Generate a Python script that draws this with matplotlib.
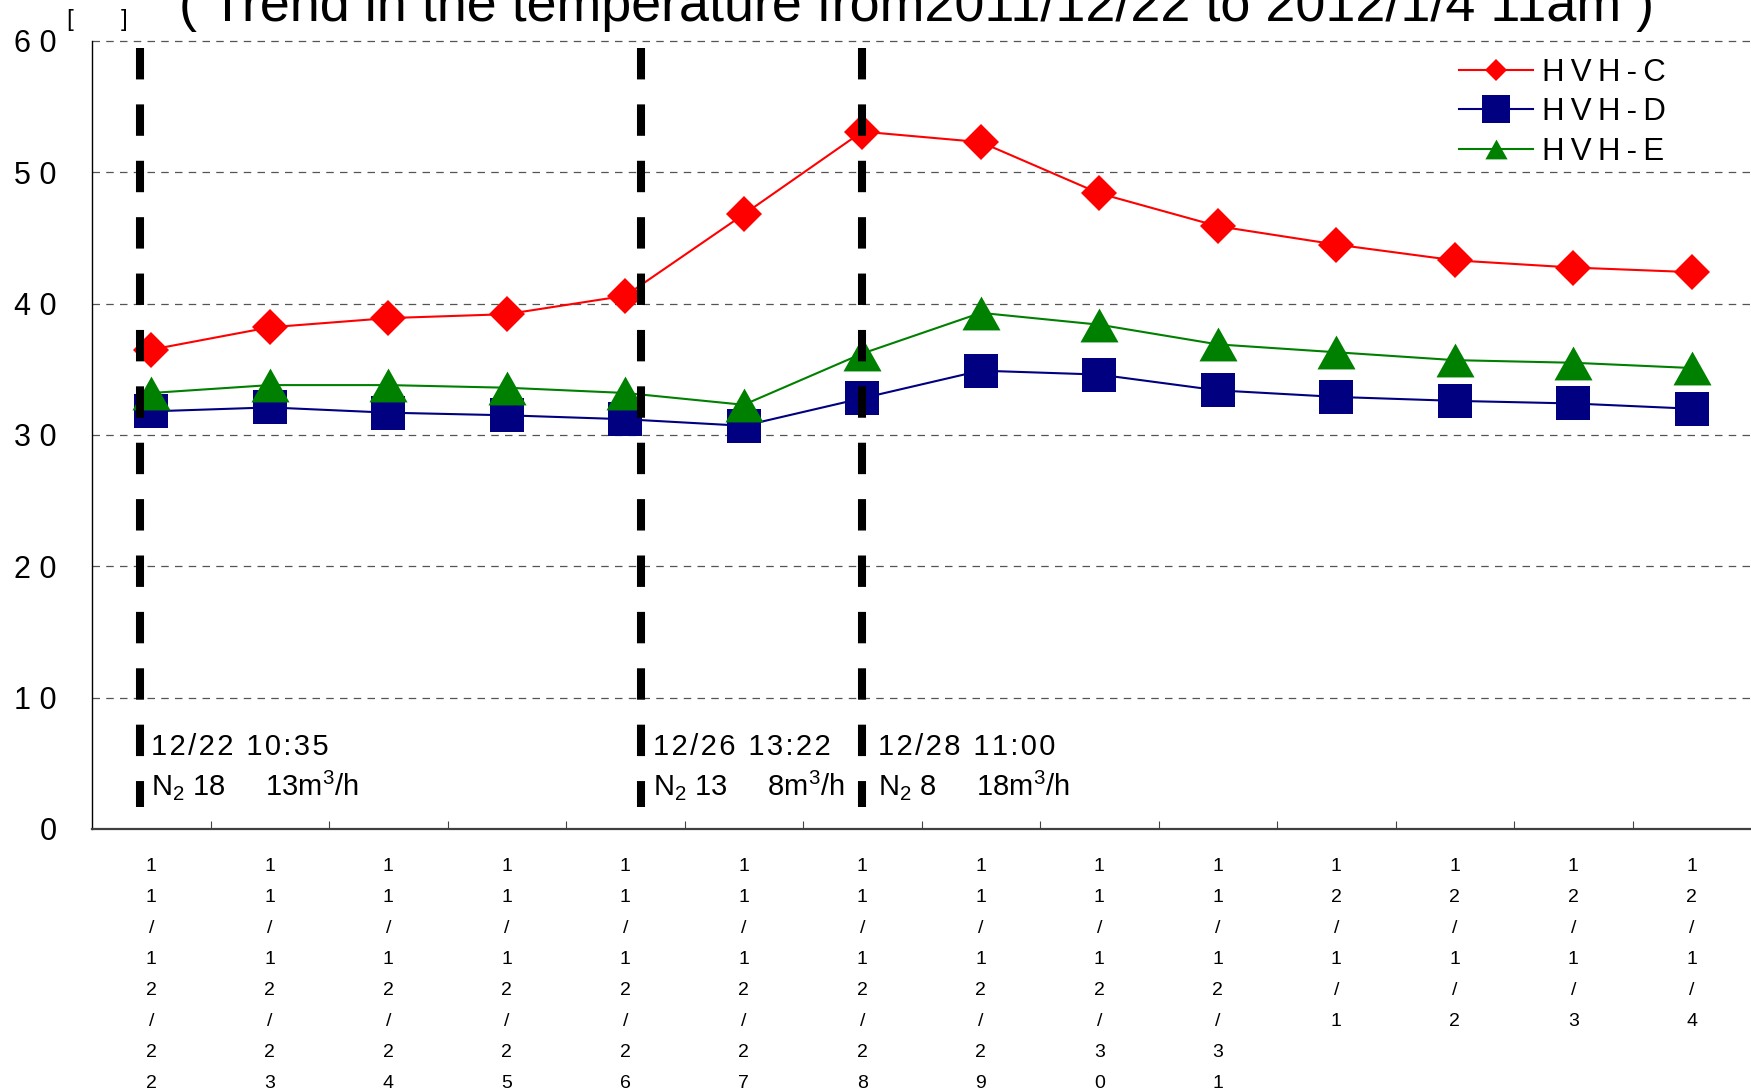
import matplotlib
matplotlib.use('Agg')
import matplotlib.pyplot as plt
from matplotlib.lines import Line2D

plt.rcParams['font.family'] = ['Liberation Sans', 'DejaVu Sans']
plt.rcParams['mathtext.fontset'] = 'custom'
plt.rcParams['mathtext.rm'] = 'Liberation Sans'

# data
dates = ['11/12/22', '11/12/23', '11/12/24', '11/12/25', '11/12/26', '11/12/27', '11/12/28',
         '11/12/29', '11/12/30', '11/12/31', '12/1/1', '12/1/2', '12/1/3', '12/1/4']
hvh_c = [36.5, 38.2, 38.9, 39.2, 40.6, 46.8, 53.1, 52.3, 48.4, 45.9, 44.5, 43.3, 42.75, 42.4]
hvh_d = [31.8, 32.1, 31.7, 31.5, 31.2, 30.7, 32.8, 34.9, 34.6, 33.4, 32.9, 32.6, 32.4, 32.0]
hvh_e = [33.2, 33.8, 33.8, 33.6, 33.2, 32.3, 36.2, 39.3, 38.4, 36.9, 36.3, 35.7, 35.5, 35.1]
names = ['HVH-C', 'HVH-D', 'HVH-E']

# N2 change events: position on the date axis and label lines
event_x = [-0.093, 4.133, 6.0]
event_time = ['12/22 10:35', '12/26 13:22', '12/28 11:00']
event_flow = [r'N$_\mathregular{2}$ 18     13m$^\mathregular{3}$/h',
              r'N$_\mathregular{2}$ 13     8m$^\mathregular{3}$/h',
              r'N$_\mathregular{2}$ 8     18m$^\mathregular{3}$/h']
text_x = [0.0, 4.23, 6.13]

title = '( Trend in the temperature from2011/12/22 to 2012/1/4 11am )'

W, H = 1751, 1090
fig = plt.figure(figsize=(W/100, H/100), dpi=100)
ax = fig.add_axes([92/W, 1-829/H, 1-92/W, (829-41)/H])

x = list(range(len(dates)))
tri = [(0, 0.89), (-1, -0.89), (1, -0.89)]
ax.plot(x, hvh_c, color='red', lw=1.5, marker='D', ms=18.8, mew=0, zorder=3)
ax.plot(x, hvh_d, color='#000080', lw=1.5, marker='s', ms=24, mew=0, zorder=3)
ax.plot(x, hvh_e, color='#008000', lw=1.5, marker=tri, ms=27.4, mew=0, zorder=4)

for ex in event_x:
    ax.plot([ex, ex], [59.48, 1.68], color='black', lw=5.8, dashes=(3.9, 3.1),
            dash_capstyle='butt', zorder=6)

def track(s, sp='\u200a'):
    return sp.join(s)

for tx, t1, t2 in zip(text_x, event_time, event_flow):
    ax.text(tx, 5.64, track(t1), fontsize=21, va='baseline', ha='left', zorder=7)
    ax.text(tx, 2.59, t2, fontsize=21, va='baseline', ha='left', zorder=7)

# grid
for gy in range(10, 61, 10):
    ax.axhline(gy, color='#555555', lw=0.9, dashes=(6, 5), zorder=1, clip_on=False)

ax.set_xlim(-0.5, 13.5)
ax.set_ylim(0, 60)
ax.set_yticks(range(0, 61, 10))
ax.set_yticklabels([' '.join(str(v)) for v in range(0, 61, 10)], fontsize=22)
ax.tick_params(axis='y', length=0, pad=25.5)

ax.set_xticks(x)
ax.set_xticklabels(['\n'.join(d) for d in dates], fontsize=14, linespacing=2.08, va='top')
ax.set_xticks([i + 0.5 for i in range(13)], minor=True)
ax.tick_params(axis='x', which='major', length=0, pad=21)
ax.tick_params(axis='x', which='minor', length=6, direction='in', color='#444444', width=0.8)

ax.spines['top'].set_visible(False)
ax.spines['right'].set_visible(False)
ax.spines['bottom'].set_color('#404040')
ax.spines['bottom'].set_linewidth(1.6)
ax.spines['left'].set_color('black')
ax.spines['left'].set_linewidth(1.0)

handles = [Line2D([], [], color='red', lw=1.5, marker='D', ms=11.2, mew=0),
           Line2D([], [], color='#000080', lw=1.5, marker='s', ms=20, mew=0),
           Line2D([], [], color='#008000', lw=1.5, marker=tri, ms=16, mew=0)]
fig.legend(handles, [track(n, '\u2009') for n in names], loc='upper left',
           bbox_to_anchor=(1459/W, 1-58/H), bbox_transform=fig.transFigure,
           frameon=False, fontsize=22.5, borderpad=0, borderaxespad=0,
           handlelength=2.36, handletextpad=0.3, labelspacing=0.3)

fig.text(179/W, 1-21/H, title, fontsize=38.8, va='baseline', ha='left')
fig.text(67/W, 1-26/H, '[       ]', fontsize=17.5, va='baseline', ha='left')

fig.savefig('out.png', dpi=100)
